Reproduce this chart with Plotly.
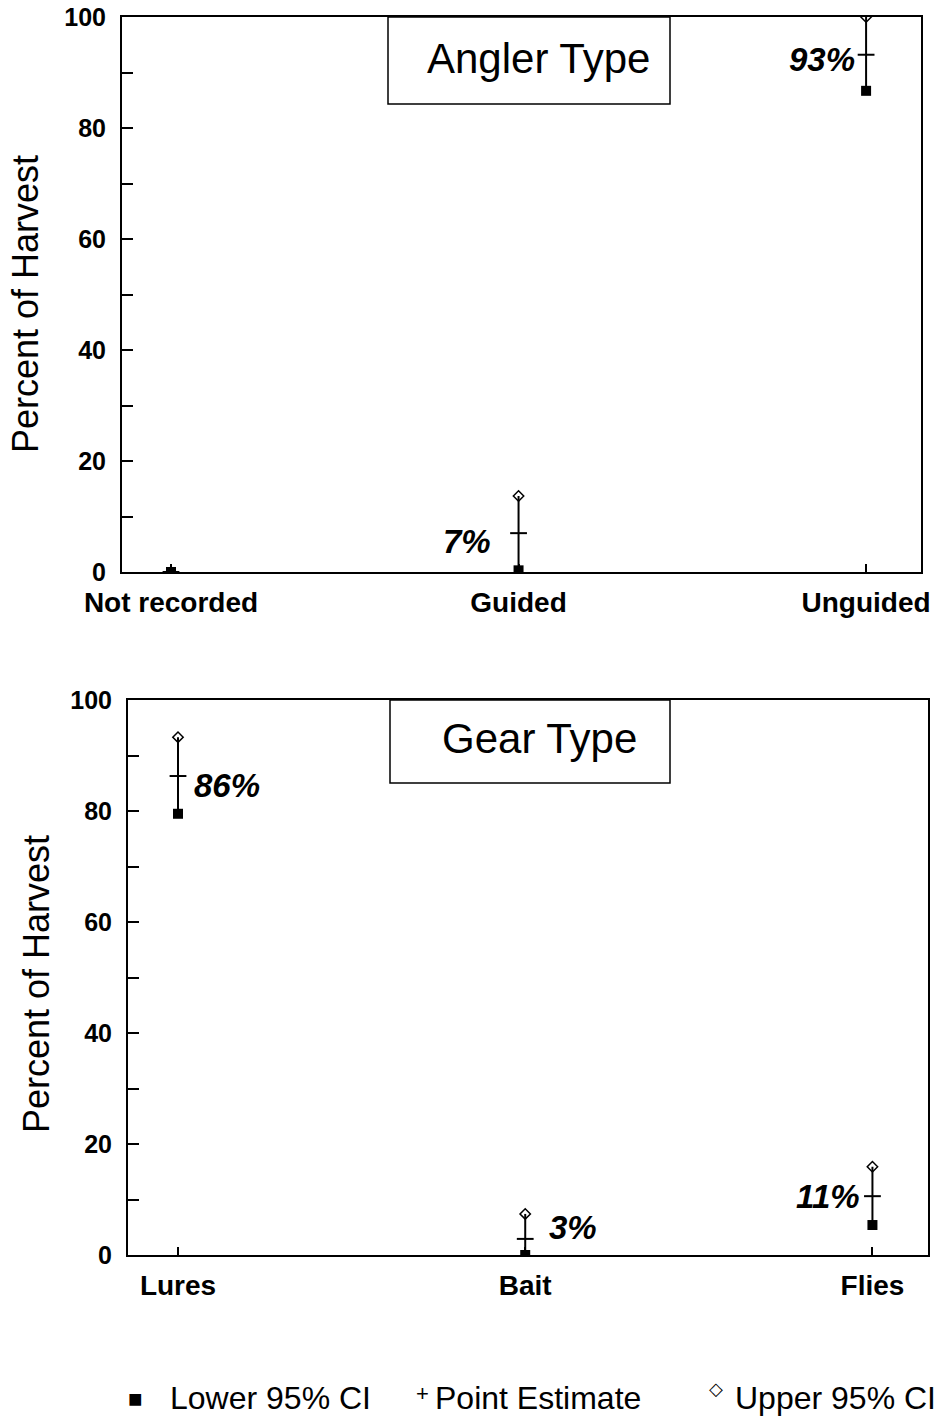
import plotly.graph_objects as go

# ---- data ----
angler_cats = ["Not recorded", "Guided", "Unguided"]
angler_lower = [0.0, 0.3, 86.7]
angler_point = [0.0, 7.0, 93.2]
angler_upper = [0.0, 13.7, 100.0]
angler_labels = ["", "7%", "93%"]

gear_cats = ["Lures", "Bait", "Flies"]
gear_lower = [79.5, 0.0, 5.4]
gear_point = [86.3, 2.9, 10.6]
gear_upper = [93.3, 7.4, 15.9]
gear_labels = ["86%", "3%", "11%"]

y_ticks = [0, 20, 40, 60, 80, 100]
legend_names = ["Lower 95% CI", "Point Estimate", "Upper 95% CI"]

W, H = 946, 1418
FONT = "Liberation Sans, Arial, sans-serif"

fig = go.Figure()


def add_panel(cats, lower, point, upper, xa, ya):
    xs = list(range(len(cats)))
    lx, ly = [], []
    for i in xs:
        lx += [i, i, None]
        ly += [lower[i], upper[i], None]
    fig.add_trace(go.Scatter(x=lx, y=ly, mode="lines", xaxis=xa, yaxis=ya,
                             line=dict(color="black", width=2), showlegend=False,
                             hoverinfo="skip"))
    fig.add_trace(go.Scatter(x=xs, y=upper, mode="markers", xaxis=xa, yaxis=ya,
                             name=legend_names[2], showlegend=False,
                             marker=dict(symbol="diamond-open", size=8, color="black",
                                         line=dict(color="black", width=1.5))))
    fig.add_trace(go.Scatter(x=xs, y=point, mode="markers", xaxis=xa, yaxis=ya,
                             name=legend_names[1], showlegend=False,
                             marker=dict(symbol="line-ew", size=12,
                                         line=dict(color="black", width=2))))
    fig.add_trace(go.Scatter(x=xs, y=lower, mode="markers", xaxis=xa, yaxis=ya,
                             name=legend_names[0], showlegend=False,
                             marker=dict(symbol="square", size=10, color="black")))


add_panel(angler_cats, angler_lower, angler_point, angler_upper, "x", "y")
add_panel(gear_cats, gear_lower, gear_point, gear_upper, "x2", "y2")


def px_x(p):
    return p / W


def px_y(p):
    return 1 - p / H


common_y = dict(range=[0, 100], tickvals=y_ticks, ticks="inside", ticklen=11,
                tickwidth=2, tickcolor="black", showline=True, linecolor="black",
                linewidth=2, mirror=True, showgrid=False, zeroline=False,
                automargin=False,
                tickfont=dict(family=FONT, size=25, color="black", weight="bold"),
                minor=dict(dtick=10, ticks="inside", ticklen=11, tickwidth=1.5,
                           tickcolor="black"),
                ticklabelstandoff=9)
common_x = dict(tickvals=[0, 1, 2], ticks="inside", ticklen=8, tickwidth=1.5,
                tickcolor="black", showline=True, linecolor="black", linewidth=2,
                mirror=True, showgrid=False, zeroline=False, automargin=False,
                tickfont=dict(family=FONT, size=28, color="black", weight="bold"),
                ticklabelstandoff=4)

fig.update_layout(
    width=W, height=H,
    margin=dict(l=0, r=0, t=0, b=0, autoexpand=False),
    paper_bgcolor="white", plot_bgcolor="white",
    xaxis=dict(common_x, domain=[px_x(122), px_x(921)], range=[-0.141, 2.158],
               ticktext=angler_cats, anchor="y"),
    yaxis=dict(common_y, domain=[px_y(572), px_y(17)], anchor="x"),
    xaxis2=dict(common_x, domain=[px_x(128), px_x(928)], range=[-0.144, 2.16],
                ticktext=gear_cats, anchor="y2"),
    yaxis2=dict(common_y, domain=[px_y(1255), px_y(700)], anchor="x2"),
    showlegend=False,
)

# title boxes
for (x0, x1, y0, y1, txt, tx, ty) in [(388, 670, 17, 104, "Angler Type", 538, 58),
                                      (390, 670, 700, 783, "Gear Type", 539, 738)]:
    fig.add_shape(type="rect", xref="paper", yref="paper",
                  x0=px_x(x0), x1=px_x(x1), y0=px_y(y1), y1=px_y(y0),
                  line=dict(color="black", width=1.5), fillcolor="white", layer="above")
    fig.add_annotation(xref="paper", yref="paper", x=px_x(tx), y=px_y(ty),
                       text=txt, showarrow=False, xanchor="center", yanchor="middle",
                       font=dict(family=FONT, size=42, color="black"))

# y axis titles
for yc, xc in [(304, 25), (984, 36)]:
    fig.add_annotation(xref="paper", yref="paper", x=px_x(xc), y=px_y(yc),
                       text="Percent of Harvest", textangle=-90, showarrow=False,
                       xanchor="center", yanchor="middle",
                       font=dict(family=FONT, size=36, color="black"))

# percent labels
lab_font = dict(family=FONT, size=33, color="black", weight="bold", style="italic")
ang_pos = {1: ("right", -26, -8), 2: ("right", -9, -5)}
for i, t in enumerate(angler_labels):
    if not t:
        continue
    xa, xs, ys = ang_pos[i]
    fig.add_annotation(xref="x", yref="y", x=i, y=angler_point[i], text=t,
                       showarrow=False, xanchor=xa, xshift=xs, yshift=ys, font=lab_font)
gear_pos = {0: ("left", 14, -9), 1: ("left", 22, 11), 2: ("right", -10, 0)}
for i, t in enumerate(gear_labels):
    xa, xs, ys = gear_pos[i]
    fig.add_annotation(xref="x2", yref="y2", x=i, y=gear_point[i], text=t,
                       showarrow=False, xanchor=xa, xshift=xs, yshift=ys, font=lab_font)

# legend row
leg_font = dict(family=FONT, size=32, color="black")
legend_items = [("\u25A0", 135, 1398, 24), ("+", 422, 1393, 22), ("\u25C7", 716, 1389, 18)]
legend_text_x = [168, 433, 733]
for (sym, sx, sy, ssz), name, tx in zip(legend_items, legend_names, legend_text_x):
    fig.add_annotation(xref="paper", yref="paper", x=px_x(sx), y=px_y(sy),
                       text=sym, showarrow=False, xanchor="center", yanchor="middle",
                       font=dict(family=FONT, size=ssz, color="black"))
    fig.add_annotation(xref="paper", yref="paper", x=px_x(tx), y=px_y(1398),
                       text=name, showarrow=False, xanchor="left", yanchor="middle",
                       font=leg_font)

fig.write_html("out.html", post_script="document.body.style.margin='0';",
               config={"displayModeBar": False})
